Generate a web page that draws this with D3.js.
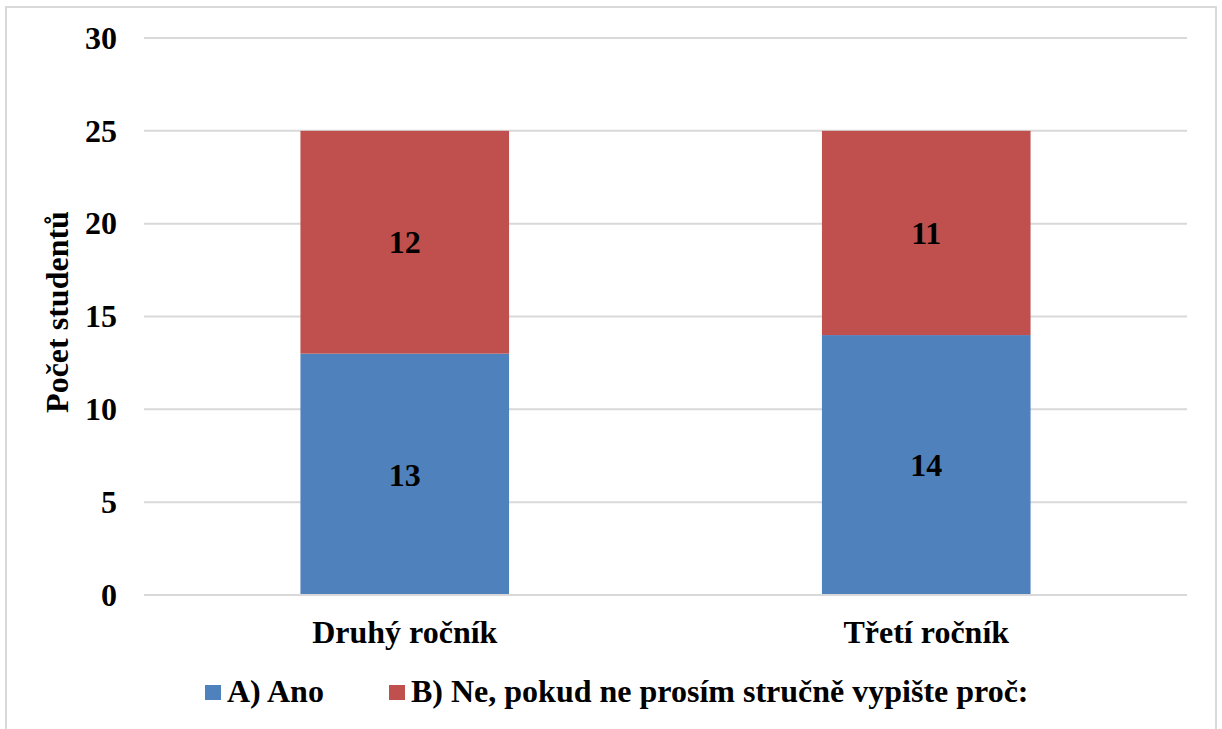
<!DOCTYPE html>
<html><head><meta charset="utf-8">
<script src="https://cdn.jsdelivr.net/npm/d3@7"></script>
<style>body{margin:0;background:#fff}</style>
</head><body><svg id="c" width="1222" height="729"></svg>
<script>
const categories = ["Druhý ročník", "Třetí ročník"];
const seriesNames = ["A) Ano", "B) Ne, pokud ne prosím stručně vypište proč:"];
const seriesA = [13, 14];
const seriesB = [12, 11];
const yTicks = [0, 5, 10, 15, 20, 25, 30];
const colors = ["#4f81bd", "#c0504d"];
const FS = 32;
const FONT = "Liberation Serif";

const svg = d3.select("#c");
svg.append("rect").attr("x", 6).attr("y", 7).attr("width", 1210).attr("height", 730)
  .attr("fill", "#fff").attr("stroke", "#d9d9d9").attr("stroke-width", 2);

const x = d3.scaleBand().domain(categories).range([144, 1187]).paddingInner(0.6).paddingOuter(0.3);
const y = d3.scaleLinear().domain([0, 30]).range([595, 38]);

const g = svg.append("g");
g.selectAll("line.grid").data(yTicks).join("line")
  .attr("x1", 144).attr("x2", 1187).attr("y1", d => y(d)).attr("y2", d => y(d))
  .attr("stroke", "#d9d9d9").attr("stroke-width", 2);

const stackData = categories.map((c, i) => ({cat: c, a: seriesA[i], b: seriesB[i]}));
const stack = d3.stack().keys(["a", "b"])(stackData);
stack.forEach((layer, li) => {
  g.selectAll("rect.s" + li).data(layer).join("rect")
    .attr("x", d => x(d.data.cat)).attr("width", x.bandwidth())
    .attr("y", d => y(d[1])).attr("height", d => y(d[0]) - y(d[1]))
    .attr("fill", colors[li]);
});
stack.forEach((layer, li) => {
  g.selectAll("text.l" + li).data(layer).join("text")
    .attr("x", d => x(d.data.cat) + x.bandwidth() / 2)
    .attr("y", d => (y(d[0]) + y(d[1])) / 2)
    .attr("dy", "0.35em").attr("text-anchor", "middle")
    .attr("font-family", FONT).attr("font-weight", "bold").attr("font-size", FS)
    .text(d => d[1] - d[0]);
});
g.append("line").attr("x1", 144).attr("x2", 1187).attr("y1", y(0)).attr("y2", y(0))
  .attr("stroke", "#d9d9d9").attr("stroke-width", 2);

const yAxis = d3.axisLeft(y).tickValues(yTicks).tickSize(0).tickPadding(0);
const ya = svg.append("g").attr("transform", "translate(117,0)").call(yAxis);
ya.select(".domain").remove();
ya.selectAll("text").attr("font-family", FONT).attr("font-weight", "bold").attr("font-size", FS).attr("fill", "#000");

const xAxis = d3.axisBottom(x).tickSize(0).tickPadding(0);
const xa = svg.append("g").attr("transform", "translate(0,620)").call(xAxis);
xa.select(".domain").remove();
xa.selectAll("text").attr("font-family", FONT).attr("font-weight", "bold").attr("font-size", FS).attr("fill", "#000").attr("dy", "0.71em");

svg.append("text").attr("transform", "translate(68,312) rotate(-90)")
  .attr("text-anchor", "middle").attr("font-family", FONT).attr("font-weight", "bold")
  .attr("font-size", FS).attr("fill", "#000").text("Počet studentů");

const legend = svg.append("g");
const lx = [205, 389];
seriesNames.forEach((n, i) => {
  legend.append("rect").attr("x", lx[i]).attr("y", 685).attr("width", 16).attr("height", 15).attr("fill", colors[i]);
  legend.append("text").attr("x", lx[i] + 22).attr("y", 702)
    .attr("font-family", FONT).attr("font-weight", "bold").attr("font-size", FS).attr("fill", "#000").text(n);
});
</script></body></html>
